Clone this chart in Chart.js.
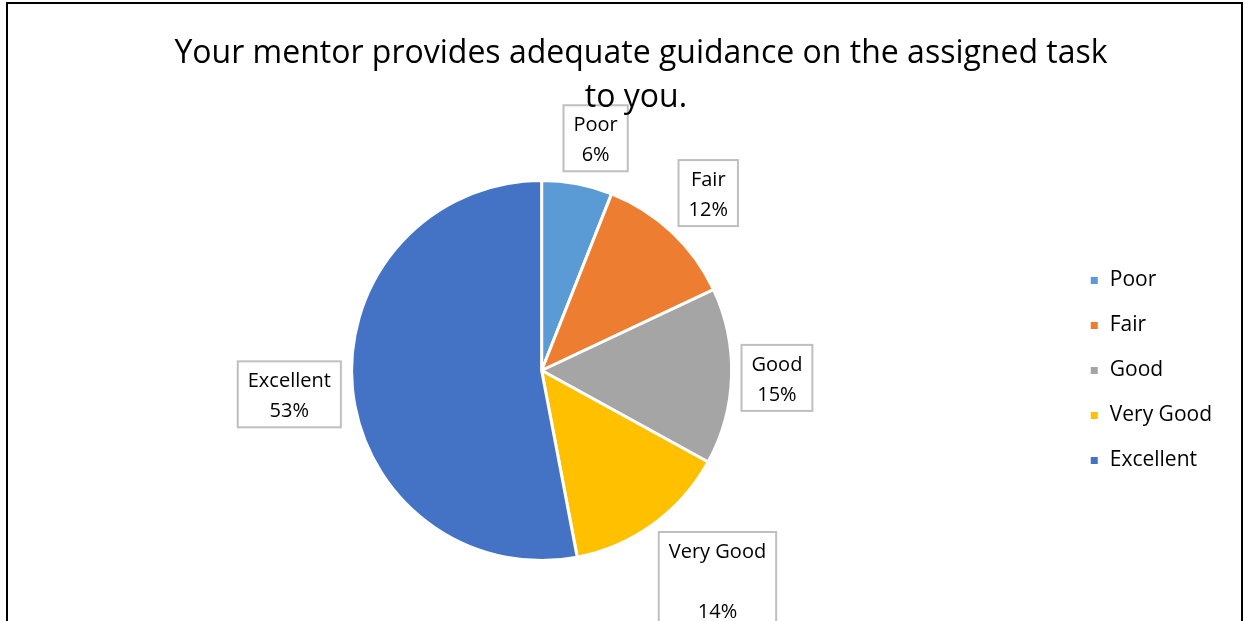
<!DOCTYPE html>
<html>
<head>
<meta charset="utf-8">
<script src="https://cdn.jsdelivr.net/npm/chart.js@4.4.1/dist/chart.umd.min.js"></script>
<style>
  html, body { margin: 0; padding: 0; background: #fff; }
  #wrap { position: relative; width: 1244px; height: 621px; }
</style>
</head>
<body>
<div id="wrap"><canvas id="pie-chart" width="1244" height="621"></canvas></div>
<script>
// Chart data
const titleLines = ['Your mentor provides adequate guidance on the assigned task', 'to you.'];
const categories = ['Poor', 'Fair', 'Good', 'Very Good', 'Excellent'];
const percents = [6, 12, 15, 14, 53];
const sliceColors = ['#5B9BD5', '#ED7D31', '#A5A5A5', '#FFC000', '#4472C4'];

const FONT = "'Open Sans', 'Noto Sans', sans-serif";

// Outer frame + title text
const framePlugin = {
  id: 'frame',
  beforeDraw(chart) {
    const ctx = chart.ctx;
    ctx.save();
    ctx.fillStyle = '#fff';
    ctx.fillRect(0, 0, chart.width, chart.height);
    ctx.strokeStyle = '#000';
    ctx.lineWidth = 2;
    ctx.beginPath();
    ctx.moveTo(7, chart.height + 2);
    ctx.lineTo(7, 3);
    ctx.lineTo(1242, 3);
    ctx.lineTo(1242, chart.height + 2);
    ctx.stroke();
    ctx.restore();
  },
  afterDraw(chart) {
    const ctx = chart.ctx;
    ctx.save();
    ctx.fillStyle = '#000';
    ctx.font = '32px ' + FONT;
    ctx.textAlign = 'center';
    ctx.textBaseline = 'alphabetic';
    ctx.fillText(titleLines[0], 641, 63);
    ctx.fillText(titleLines[1], 636, 107);
    ctx.restore();
  }
};

// Boxed data labels placed just outside each slice
const labelPlugin = {
  id: 'boxLabels',
  afterDatasetsDraw(chart) {
    const ctx = chart.ctx;
    const meta = chart.getDatasetMeta(0);
    ctx.save();
    ctx.font = '20px ' + FONT;
    ctx.textAlign = 'center';
    ctx.textBaseline = 'middle';
    meta.data.forEach((arc, i) => {
      const mid = (arc.startAngle + arc.endAngle) / 2;
      const isVG = categories[i] === 'Very Good';
      const lines = isVG ? [categories[i], '', percents[i] + '%'] : [categories[i], percents[i] + '%'];
      const lh = 30;
      const w = Math.max(...lines.map(t => ctx.measureText(t).width)) + 20;
      const h = lines.length * lh + 6;
      // Very Good label sits a bit further round toward the right in the original
      const ang = isVG ? mid - 0.07 : mid + (i === 0 ? 0.04 : 0);
      const dx = Math.cos(ang), dy = Math.sin(ang);
      const dist = arc.outerRadius + 9 + Math.abs(dx) * w / 2 + Math.abs(dy) * h / 2;
      const cx = arc.x + dx * dist;
      const cy = arc.y + dy * dist;
      ctx.fillStyle = '#fff';
      ctx.fillRect(cx - w / 2, cy - h / 2, w, h);
      ctx.strokeStyle = '#BFBFBF';
      ctx.lineWidth = 2;
      ctx.strokeRect(cx - w / 2, cy - h / 2, w, h);
      ctx.fillStyle = '#000';
      lines.forEach((t, j) => {
        ctx.fillText(t, cx, cy - h / 2 + 5 + lh * j + lh / 2);
      });
    });
    ctx.restore();
  }
};

const chart = new Chart(document.getElementById('pie-chart'), {
  type: 'pie',
  data: {
    labels: categories,
    datasets: [{
      data: percents,
      backgroundColor: sliceColors,
      borderColor: '#fff',
      borderWidth: 3,
      radius: 190
    }]
  },
  options: {
    responsive: false,
    animation: false,
    layout: { padding: { top: 120, bottom: 0, left: 18, right: 22 } },
    plugins: {
      title: { display: false },
      tooltip: { enabled: false },
      legend: {
        position: 'right',
        labels: {
          boxWidth: 10,
          boxHeight: 10,
          padding: 24,
          color: '#000',
          font: { family: FONT, size: 21 }
        }
      }
    }
  },
  plugins: [framePlugin, labelPlugin]
});
</script>
</body>
</html>
